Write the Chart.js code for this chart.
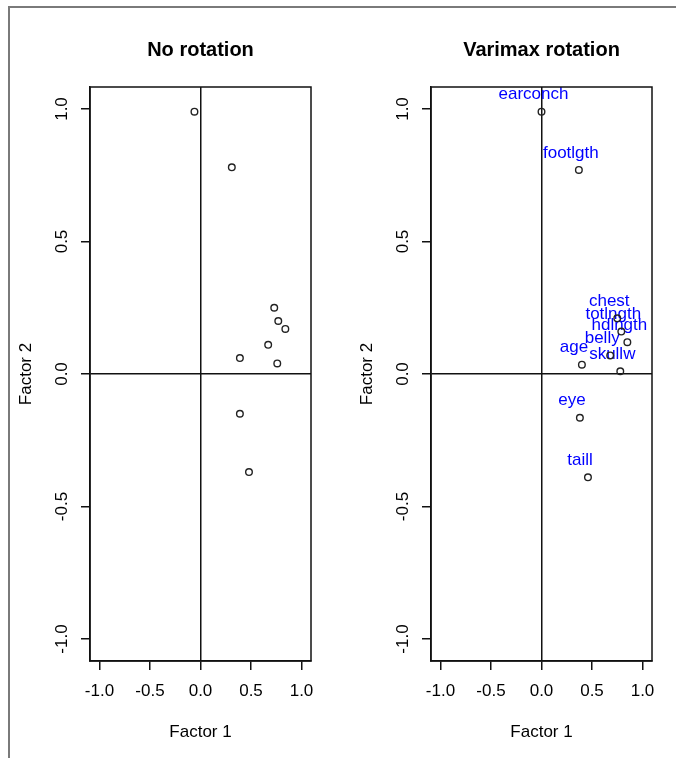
<!DOCTYPE html>
<html>
<head>
<meta charset="utf-8">
<title>Factor loadings</title>
<script src="https://cdn.jsdelivr.net/npm/chart.js@4"></script>
<style>
  html, body { margin: 0; padding: 0; background: #fff; }
  #page { position: relative; width: 676px; height: 758px; overflow: hidden; }
  #frame { position: absolute; left: 8px; top: 6px; right: -10px; bottom: -10px;
           border-top: 2px solid #7a7a7a; border-left: 2px solid #7a7a7a; }
  canvas { position: absolute; top: 0; }
  #c1 { left: 0; }
  #c2 { left: 341px; }
</style>
</head>
<body>
<div id="page">
  <div id="frame"></div>
  <canvas id="c1" width="341" height="758"></canvas>
  <canvas id="c2" width="335" height="758"></canvas>
</div>
<script>
// ticks used on both axes of both panels
const tickValues = [-1, -0.5, 0, 0.5, 1];
const tickLabels = ['-1.0', '-0.5', '0.0', '0.5', '1.0'];

// loadings, no rotation
const noRotX = [-0.06, 0.31, 0.73, 0.77, 0.84, 0.67, 0.39, 0.76, 0.39, 0.48];
const noRotY = [0.99, 0.78, 0.25, 0.20, 0.17, 0.11, 0.06, 0.04, -0.15, -0.37];

// loadings, varimax rotation
const varNames = ['earconch', 'footlgth', 'chest', 'totlngth', 'hdlngth', 'belly', 'age', 'skullw', 'eye', 'taill'];
const varX = [0.00, 0.37, 0.75, 0.79, 0.85, 0.68, 0.40, 0.78, 0.38, 0.46];
const varY = [0.99, 0.77, 0.21, 0.16, 0.12, 0.07, 0.035, 0.01, -0.165, -0.39];

const FAMILY = "'Liberation Sans', Arial, sans-serif";
const txtFont = { family: FAMILY, size: 17 };

// full box round the plot area
const boxPlugin = {
  id: 'box',
  afterDatasetsDraw(chart) {
    const { ctx, chartArea: a } = chart;
    ctx.save();
    ctx.strokeStyle = '#111';
    ctx.lineWidth = 1.5;
    ctx.strokeRect(Math.round(a.left), Math.round(a.top), Math.round(a.right - a.left), Math.round(a.bottom - a.top));
    ctx.restore();
  }
};

// blue variable names above the points
function namesPlugin(names) {
  return {
    id: 'names',
    beforeDatasetsDraw(chart) {
      const { ctx } = chart;
      const meta = chart.getDatasetMeta(0);
      ctx.save();
      ctx.font = '17px ' + FAMILY;
      ctx.fillStyle = '#0000ff';
      ctx.textAlign = 'center';
      ctx.textBaseline = 'middle';
      meta.data.forEach((pt, i) => {
        ctx.fillText(names[i], pt.x - 8, pt.y - 17);
      });
      ctx.restore();
    }
  };
}

function axisGrid() {
  return {
    color: (c) => (c.tick && c.tick.value === 0 ? '#111' : 'rgba(0,0,0,0)'),
    lineWidth: 1.5,
    tickColor: '#111',
    tickLength: 9,
    drawTicks: true
  };
}

function makeChart(id, title, xs, ys, names) {
  const canvas = document.getElementById(id);
  const plugins = [boxPlugin];
  if (names) plugins.push(namesPlugin(names));

  return new Chart(canvas, {
    type: 'scatter',
    data: {
      datasets: [{
        data: xs.map((x, i) => ({ x, y: ys[i] })),
        pointStyle: 'circle',
        pointRadius: 3.3,
        borderWidth: 1.4,
        borderColor: '#222',
        backgroundColor: 'rgba(0,0,0,0)'
      }]
    },
    options: {
      responsive: false,
      animation: false,
      events: [],
      layout: { padding: { left: 0, top: 0, bottom: 0, right: canvas.width - 311 } },
      plugins: {
        legend: { display: false },
        tooltip: { enabled: false },
        title: {
          display: true,
          fullSize: false,
          text: title,
          color: '#000',
          font: { family: FAMILY, size: 20, weight: 'bold' },
          padding: { top: 38, bottom: 25 }
        }
      },
      scales: {
        x: {
          type: 'linear',
          min: -1.094,
          max: 1.094,
          afterBuildTicks: (s) => { s.ticks = tickValues.map((v) => ({ value: v })); },
          afterFit: (s) => { s.height = 97; },
          ticks: {
            callback: (v) => tickLabels[tickValues.indexOf(v)],
            font: txtFont,
            color: '#000',
            padding: 11,
            maxRotation: 0,
            autoSkip: false
          },
          grid: axisGrid(),
          border: { display: true, color: '#111', width: 1.5 },
          title: { display: true, text: 'Factor 1', color: '#000', font: txtFont, padding: { top: 0, bottom: 15 } }
        },
        y: {
          type: 'linear',
          min: -1.083,
          max: 1.083,
          afterBuildTicks: (s) => { s.ticks = tickValues.map((v) => ({ value: v })); },
          afterFit: (s) => { s.width = 90; },
          ticks: {
            callback: (v) => tickLabels[tickValues.indexOf(v)],
            font: txtFont,
            color: '#000',
            padding: 4,
            minRotation: 90,
            maxRotation: 90,
            crossAlign: 'center',
            autoSkip: false
          },
          grid: axisGrid(),
          border: { display: true, color: '#111', width: 1.5 },
          title: { display: true, text: 'Factor 2', color: '#000', font: txtFont, padding: { top: 16, bottom: 0 } }
        }
      }
    },
    plugins
  });
}

makeChart('c1', 'No rotation', noRotX, noRotY, null);
makeChart('c2', 'Varimax rotation', varX, varY, varNames);
</script>
</body>
</html>
